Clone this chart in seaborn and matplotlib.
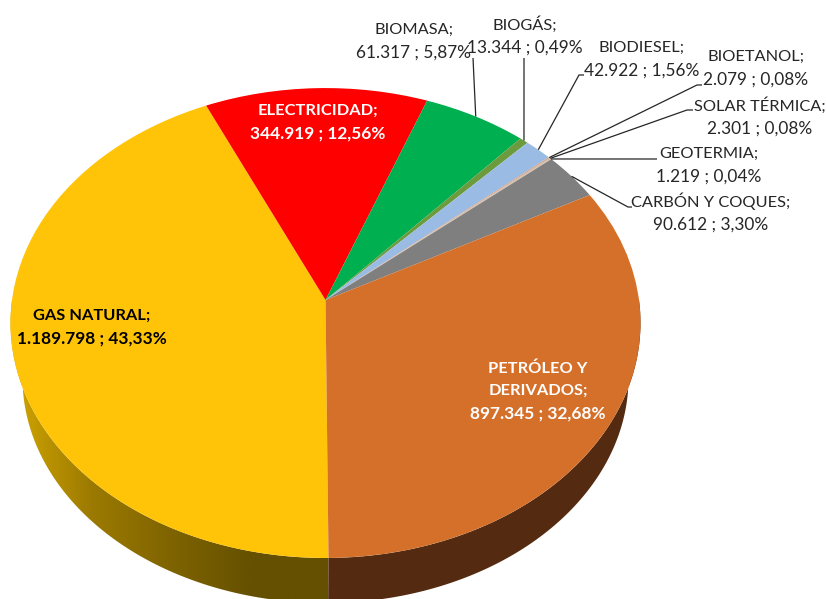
import numpy as np
import seaborn as sns
from matplotlib import pyplot as plt
from matplotlib.colors import LinearSegmentedColormap
from matplotlib.patches import Polygon
from matplotlib.transforms import Transform

categorias = ['GAS NATURAL', 'ELECTRICIDAD', 'BIOMASA', 'BIOGÁS', 'BIODIESEL',
              'BIOETANOL', 'SOLAR TÉRMICA', 'GEOTERMIA', 'CARBÓN Y COQUES',
              'PETRÓLEO Y\nDERIVADOS']
valores = ['1.189.798', '344.919', '61.317', '13.344', '42.922',
           '2.079', '2.301', '1.219', '90.612', '897.345']
porcentajes = [43.33, 12.56, 5.87, 0.49, 1.56, 0.08, 0.08, 0.04, 3.30, 32.68]
colores = ['#FFC407', '#FF0000', '#00B050', '#6B9B3C', '#9ABBE3',
           '#D8A080', '#C8B8A8', '#E0B8A0', '#7F7F7F', '#D5702A']

W, H = 826, 599
CX, CY = 325.5, 300
A, B, K = 313.5, 232.7, 0.098
INICIO = 270.5


def tilt(u, v):
    # perspectiva de la cara superior, de disco unidad a pixeles
    d = 1 + K * v
    return CX + A * u / d, CY - B * v / d


class Tilt(Transform):
    input_dims = output_dims = 2

    def transform_non_affine(self, values):
        values = np.asarray(values)
        x, y = tilt(values[:, 0], values[:, 1])
        return np.column_stack([x, y])


sns.set_theme(style='white')
plt.rcParams['font.family'] = ['Lato', 'DejaVu Sans']

fig = plt.figure(figsize=(W / 100, H / 100), dpi=100)
ax = fig.add_axes([0, 0, 1, 1])

wedges, _ = ax.pie(porcentajes, colors=colores, startangle=INICIO, counterclock=False,
                   radius=1, wedgeprops={'linewidth': 0, 'zorder': 3})
for w in wedges:
    w.set_transform(Tilt() + ax.transData)
    w.set_clip_on(False)


# borde inferior del disco
def borde(theta):
    top_x, top_y = tilt(np.cos(theta), np.sin(theta))
    low_x = CX + 303 * np.cos(theta)
    low_y = 378 - 225 * np.sin(theta)
    return np.column_stack([top_x, top_y]), np.column_stack([low_x, low_y])


top, low = borde(np.radians(np.linspace(180, INICIO, 200)))
izq = np.vstack([top, low[::-1]])
top, low = borde(np.radians(np.linspace(INICIO, 360, 200)))
der = np.vstack([top, low[::-1]])

grad = LinearSegmentedColormap.from_list(
    'lado', sns.blend_palette(['#D2A600', '#9C7A00', '#7E6300', '#645000', '#645000'], 5))
img = ax.imshow(np.linspace(0, 1, 300)[None, :], cmap=grad, aspect='auto',
                extent=(10, CX + 10, H, 0), zorder=1)
clip = Polygon(izq, transform=ax.transData, facecolor='none', edgecolor='none')
ax.add_patch(clip)
img.set_clip_path(clip)
ax.fill(der[:, 0], der[:, 1], color='#542B10', linewidth=0, zorder=1)

ax.set_aspect('auto')
ax.set_xlim(0, W)
ax.set_ylim(H, 0)
ax.axis('off')

# lineas guia: desde el angulo medio de cada sector hasta el codo de la etiqueta
guias = {
    'BIOMASA': [(473, 58)],
    'BIOGÁS': [(524, 58)],
    'BIODIESEL': [(579, 75), (584, 75)],
    'BIOETANOL': [(697, 85), (702, 85)],
    'SOLAR TÉRMICA': [(687, 110), (693, 110)],
    'GEOTERMIA': [(657, 159)],
    'CARBÓN Y COQUES': [(628, 207), (632, 207)],
}
acum = np.cumsum([0] + porcentajes) / np.sum(porcentajes)
medios = np.radians(INICIO - 360 * (acum[:-1] + acum[1:]) / 2)
for nombre, codo in guias.items():
    i = categorias.index(nombre)
    x0, y0 = tilt(np.cos(medios[i]), np.sin(medios[i]))
    xs = [x0] + [p[0] for p in codo]
    ys = [y0] + [p[1] for p in codo]
    ax.plot(xs, ys, color='#262626', lw=0.9, zorder=4, solid_capstyle='butt')

posiciones = [(92, 327), (318, 122), (414, 41), (525, 36), (642, 59),
              (756, 68), (760, 117), (709, 165), (711, 213), (538, 391)]
destacados = {'GAS NATURAL': 'black', 'ELECTRICIDAD': 'white',
              'PETRÓLEO Y\nDERIVADOS': 'white'}
for nombre, valor, pct, (x, y) in zip(categorias, valores, porcentajes, posiciones):
    parte = f"{pct:.2f}".replace('.', ',')
    lineas = f"{nombre};\n{valor} ; {parte}%".split('\n')
    for j, linea in enumerate(lineas):
        # la linea de cifras va un poco mayor, como en el original
        ax.text(x, y + (j - (len(lineas) - 1) / 2) * 22.5, linea,
                ha='center', va='center', zorder=5,
                fontsize=12.4 if j == len(lineas) - 1 else 11.8,
                color=destacados.get(nombre, '#262626'),
                fontweight='bold' if nombre in destacados else 'normal')

fig.savefig('out.png', dpi=100)
